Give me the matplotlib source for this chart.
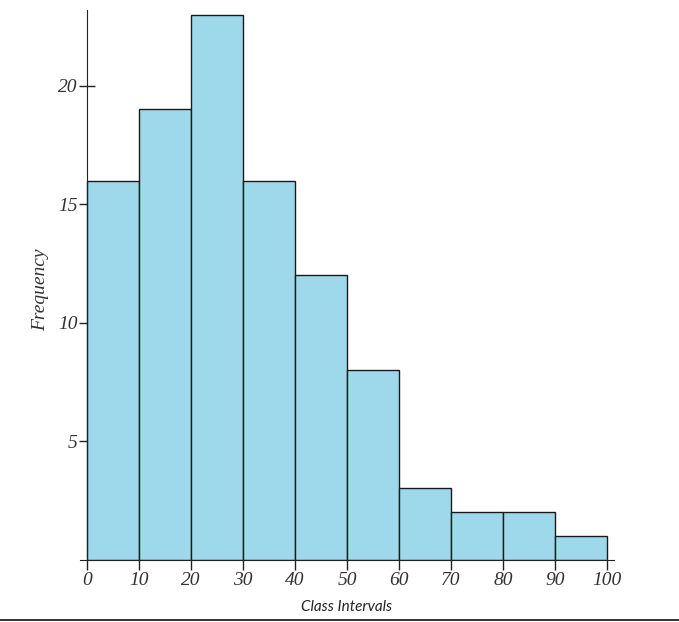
import matplotlib
matplotlib.use("Agg")
import matplotlib.pyplot as plt
from matplotlib.lines import Line2D

bin_edges = [0, 10, 20, 30, 40, 50, 60, 70, 80, 90, 100]
frequencies = [16, 19, 23, 16, 12, 8, 3, 2, 2, 1]
x_ticks = [0, 10, 20, 30, 40, 50, 60, 70, 80, 90, 100]
y_ticks = [5, 10, 15, 20]

fig = plt.figure(figsize=(6.79, 6.22), dpi=100)
ax = fig.add_axes([80/679, 1 - 559.5/622, (614 - 80)/679, (559.5 - 10)/622])

lefts = bin_edges[:-1]
widths = [b - a for a, b in zip(bin_edges[:-1], bin_edges[1:])]
ax.bar(lefts, frequencies, width=widths, align="edge",
       color="#9DD9EA", edgecolor="#1a1a1a", linewidth=1.0, zorder=2)

ax.set_xlim(-1.35, 101.35)
ax.set_ylim(0, 23.2)
ax.spines["top"].set_visible(False)
ax.spines["right"].set_visible(False)
ax.spines["left"].set_position(("data", 0))
ax.spines["left"].set_color("#222222")
ax.spines["bottom"].set_color("#222222")

ax.set_xticks(x_ticks)
ax.set_yticks(y_ticks)
serif = {"family": "Liberation Serif", "style": "italic", "size": 14}
ax.set_xticklabels([str(t) for t in x_ticks], fontdict=serif, color="#333333")
ax.set_yticklabels([str(t) for t in y_ticks], fontdict=serif, color="#333333")
ax.tick_params(axis="x", direction="out", length=7, width=1, color="#222222", pad=2)
ax.tick_params(axis="y", direction="inout", length=12, width=1, color="#222222", pad=1)

ax.set_ylabel("Frequency", fontdict={"family": "Liberation Serif", "style": "italic", "size": 14},
              color="#333333")
ax.yaxis.set_label_coords(-0.058, 0.49)
ax.set_xlabel("Class Intervals", fontdict={"family": "Lato", "style": "italic", "size": 11},
              color="#222222", labelpad=8)

fig.add_artist(Line2D([0, 1], [1 - 620/622, 1 - 620/622], transform=fig.transFigure,
                      color="#222222", linewidth=1.3))

fig.savefig("out.png", dpi=100)
